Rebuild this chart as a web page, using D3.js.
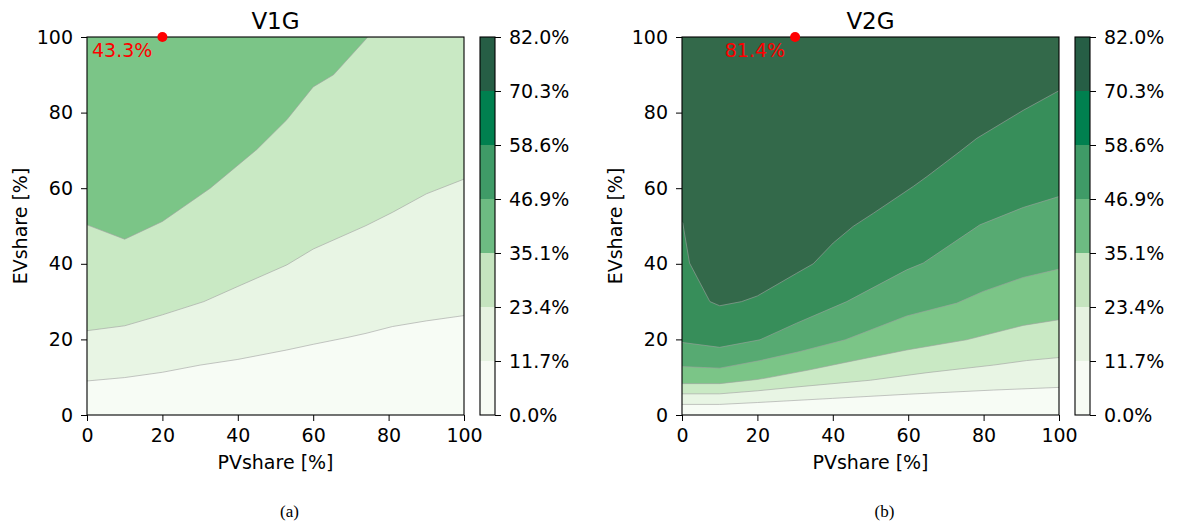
<!DOCTYPE html>
<html>
<head>
<meta charset="utf-8">
<script src="https://cdn.jsdelivr.net/npm/d3@7"></script>
<style>
  body { margin: 0; background: #fff; }
</style>
</head>
<body>
<div id="chart"></div>
<script>
// contour levels: linspace(0, 82, 8)
const levels = [0, 11.714, 23.429, 35.143, 46.857, 58.571, 70.286, 82.0];
const xTicks = [0, 20, 40, 60, 80, 100];
const yTicks = [0, 20, 40, 60, 80, 100];

// contour boundaries [PVshare, EVshare], one list per level (11.7%, 23.4%, ...)
const v1gContours = [
  [[0, 9.0], [10, 9.9], [20, 11.3], [30, 13.2], [40, 14.7], [53, 17.2], [60, 18.7], [69, 20.5],
   [74, 21.6], [81, 23.4], [90, 24.9], [100, 26.3]],
  [[0, 22.3], [10, 23.6], [20, 26.5], [31, 30.0], [40, 34.0], [53, 39.7], [60, 43.9], [74, 50.1],
   [81, 53.6], [90, 58.5], [100, 62.4]],
  [[0, 50.3], [10, 46.5], [20, 51.2], [32.7, 60.0], [45, 70.2], [53, 78.1], [60, 86.8], [65.4, 90.0],
   [74.5, 100], [100, 100]]
];

const v2gContours = [
  [[0, 2.8], [10, 2.8], [20, 3.3], [40, 4.4], [60, 5.5], [82.6, 6.6], [100, 7.3]],
  [[0, 5.6], [10, 5.6], [20, 6.4], [31.3, 7.5], [50, 9.2], [65, 11.2], [82.6, 13.2], [91.4, 14.4], [100, 15.2]],
  [[0, 8.3], [10, 8.3], [20, 9.4], [23, 9.9], [33.6, 11.9], [43.3, 13.9], [59.6, 17.2], [75.5, 19.9],
   [90.5, 23.7], [100, 25.2]],
  [[0, 12.8], [10, 12.4], [20.7, 14.4], [31.3, 16.8], [43.3, 19.9], [59.6, 26.2], [72.9, 29.6],
   [79.9, 32.7], [90.5, 36.4], [100, 38.6]],
  [[0, 19.2], [10, 17.9], [20.7, 19.9], [30.4, 24.3], [43.7, 30.0], [59.6, 38.4], [64, 40.2],
   [79, 50.3], [90.5, 54.9], [100, 57.8]],
  [[0, 51.0], [0.2, 50.8], [2, 40.2], [7.4, 30.0], [10, 28.9], [15.8, 30.0], [20, 31.5], [30.4, 37.5],
   [34.8, 40.0], [40.1, 45.5], [45.4, 49.9], [50.8, 53.4], [61.4, 60.5], [65, 63.1], [73.7, 69.7],
   [78.2, 73.2], [90.5, 80.6], [100, 85.8]]
];

const peaks = [
  { x: 20, y: 100, label: "43.3%" },
  { x: 30, y: 100, label: "81.4%" }
];

const titles = ["V1G", "V2G"];
const captions = ["(a)", "(b)"];

const bandColors = ["#f7fcf5", "#e8f5e4", "#c9e9c4", "#7bc587", "#57aa72", "#378e5a", "#33694a"];
const barColors = ["#f7fbf4", "#e6f3e1", "#c5e4bf", "#6dbb82", "#3f9b67", "#00804f", "#265e45"];

const W = 1178, H = 526;
const sans = "DejaVu Sans, sans-serif";
const svg = d3.select("#chart").append("svg").attr("width", W).attr("height", H)
  .attr("font-family", sans);

function drawPanel(i, contours, left) {
  const top = 37, bottom = 415, right = left + 377;
  const x = d3.scaleLinear().domain([0, 100]).range([left, right]);
  const y = d3.scaleLinear().domain([0, 100]).range([bottom, top]);
  const g = svg.append("g");

  const clipId = "clip" + i;
  g.append("clipPath").attr("id", clipId)
    .append("rect").attr("x", left).attr("y", top).attr("width", right - left).attr("height", bottom - top);

  const fills = g.append("g").attr("clip-path", `url(#${clipId})`);
  fills.append("rect")
    .attr("x", x(0)).attr("y", y(100))
    .attr("width", x(100) - x(0)).attr("height", y(0) - y(100))
    .attr("fill", bandColors[0]);

  const area = d3.area().x(d => x(d[0])).y0(d => y(d[1])).y1(y(100));
  const line = d3.line().x(d => x(d[0])).y(d => y(d[1]));

  fills.selectAll("path.band").data(contours).join("path")
    .attr("class", "band")
    .attr("d", area)
    .attr("fill", (d, k) => bandColors[k + 1]);

  fills.selectAll("path.iso").data(contours).join("path")
    .attr("class", "iso")
    .attr("d", line)
    .attr("fill", "none")
    .attr("stroke", "#a0a0a0")
    .attr("stroke-opacity", 0.6)
    .attr("stroke-width", 1);

  const fs = 19;
  const xAxis = g.append("g").attr("transform", `translate(0,${bottom})`)
    .call(d3.axisBottom(x).tickValues(xTicks).tickSize(6).tickPadding(8).tickFormat(d3.format("d")));
  const yAxis = g.append("g").attr("transform", `translate(${left},0)`)
    .call(d3.axisLeft(y).tickValues(yTicks).tickSize(6).tickPadding(8).tickFormat(d3.format("d")));
  [xAxis, yAxis].forEach(a => {
    a.select(".domain").remove();
    a.selectAll("text").attr("font-size", fs).attr("font-family", sans).attr("fill", "#000");
    a.selectAll("line").attr("stroke", "#000").attr("stroke-width", 1);
  });

  g.append("rect")
    .attr("x", left).attr("y", top).attr("width", right - left).attr("height", bottom - top)
    .attr("fill", "none").attr("stroke", "#000").attr("stroke-width", 1.1);

  // peak marker
  const p = peaks[i];
  g.append("circle").attr("cx", x(p.x)).attr("cy", y(p.y)).attr("r", 5).attr("fill", "#ff0000");
  g.append("text").attr("x", x(p.x) - 10).attr("y", top + 20)
    .attr("text-anchor", "end").attr("font-size", fs).attr("fill", "#ff0000").text(p.label);

  // labels
  const cx = (left + right) / 2;
  g.append("text").attr("x", cx).attr("y", 29).attr("text-anchor", "middle")
    .attr("font-size", 23).text(titles[i]);
  g.append("text").attr("x", cx).attr("y", 469).attr("text-anchor", "middle")
    .attr("font-size", fs).text("PVshare [%]");
  g.append("text").attr("transform", `translate(${left - 60},${(top + bottom) / 2}) rotate(-90)`)
    .attr("text-anchor", "middle").attr("font-size", fs).text("EVshare [%]");
  g.append("text").attr("x", cx + 14).attr("y", 517).attr("text-anchor", "middle")
    .attr("font-family", "Liberation Serif, serif").attr("font-size", 17).text(captions[i]);

  // colorbar
  const cbLeft = right + 16, cbW = 15;
  const c = d3.scaleLinear().domain([levels[0], levels[levels.length - 1]]).range([bottom, top]);
  const bands = d3.pairs(levels);
  g.selectAll("rect.cb").data(bands).join("rect")
    .attr("class", "cb")
    .attr("x", cbLeft).attr("width", cbW)
    .attr("y", d => c(d[1])).attr("height", d => c(d[0]) - c(d[1]))
    .attr("fill", (d, k) => barColors[k]);
  g.append("rect").attr("x", cbLeft).attr("y", top).attr("width", cbW).attr("height", bottom - top)
    .attr("fill", "none").attr("stroke", "#000").attr("stroke-width", 1.1);
  const cAxis = g.append("g").attr("transform", `translate(${cbLeft + cbW},0)`)
    .call(d3.axisRight(c).tickValues(levels).tickSize(6).tickPadding(8).tickFormat(d => d3.format(".1f")(d) + "%"));
  cAxis.select(".domain").remove();
  cAxis.selectAll("text").attr("font-size", fs).attr("font-family", sans).attr("fill", "#000");
  cAxis.selectAll("line").attr("stroke", "#000").attr("stroke-width", 1);
}

drawPanel(0, v1gContours, 87);
drawPanel(1, v2gContours, 682);
</script>
</body>
</html>
